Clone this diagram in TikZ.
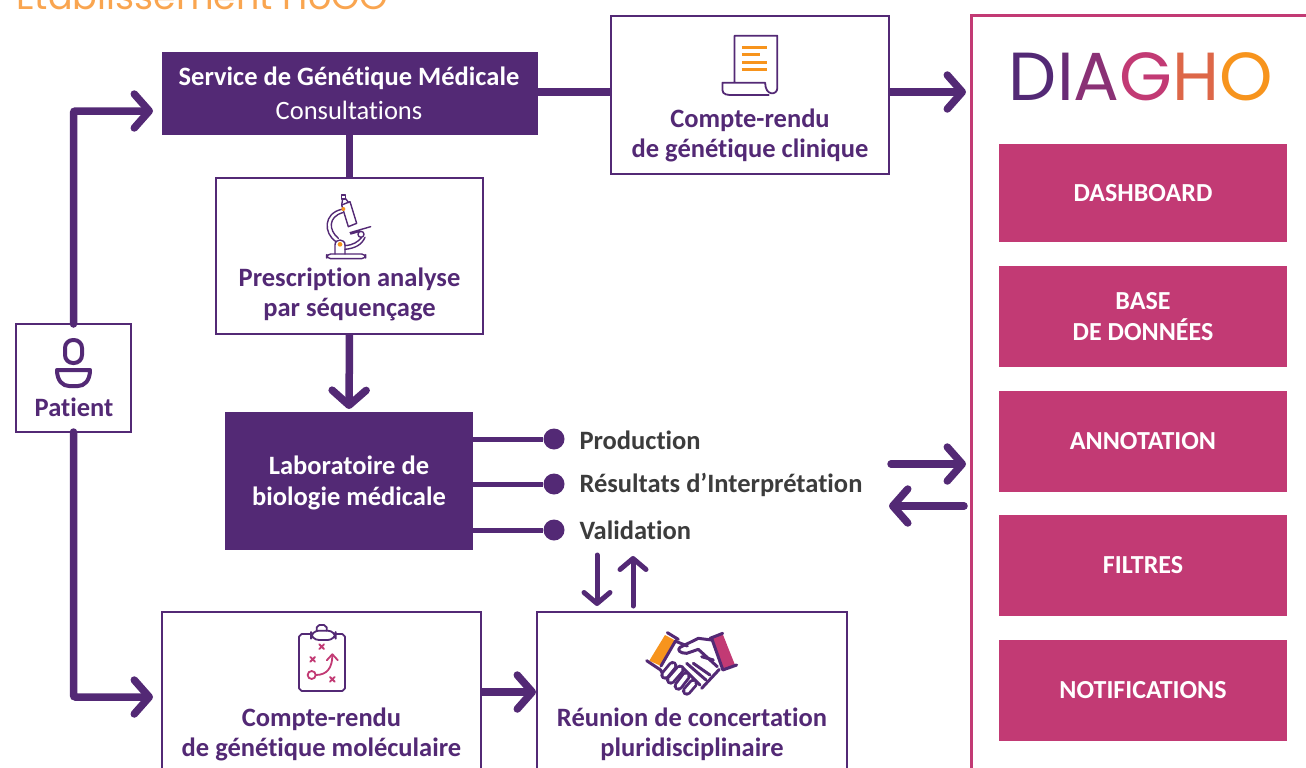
\documentclass[tikz,border=0pt]{standalone}
\usepackage{fontspec}
\setmainfont{Carlito}[Ligatures=NoCommon]
\newfontfamily\logofont{Poppins}
\usetikzlibrary{arrows.meta}
\definecolor{violet}{HTML}{532975}
\definecolor{framboise}{HTML}{C23A74}
\definecolor{orangeicon}{HTML}{F7941D}
\definecolor{orangetitle}{HTML}{F9A550}
\definecolor{grisfonce}{HTML}{3C3C3C}
\begin{document}
\begin{tikzpicture}[x=1pt, y=-1pt,
      >={Straight Barb[length=15pt,width=34pt,round]},
      flow/.style={
        ->,
        violet,
        line width=7.5pt
      },
      thinflow/.style={
        -{Straight Barb[length=11pt,width=26pt,round]},
        violet,
        line width=5pt,
        line cap=round
      },
      link/.style={
        violet,
        line width=7.5pt
      },
      darkbox/.style={
        fill=violet,
        inner sep=0pt,
        outer sep=0pt
      },
      whitebox/.style={
        draw=violet,
        fill=white,
        line width=2.8pt,
        inner sep=0pt,
        outer sep=0pt
      },
      pinkbox/.style={
        fill=framboise,
        text=white,
        font=\fontsize{26}{31}\selectfont\bfseries,
        align=center,
        minimum width=288pt,
        inner sep=0pt
      },
      boxtext/.style={
        text=violet,
        font=\fontsize{26.5}{30}\selectfont\bfseries,
        align=center
      },
      listtext/.style={
        text=grisfonce,
        font=\fontsize{26.5}{30}\selectfont\bfseries,
        anchor=west
      },
      bullet/.style={
        fill=violet,
        circle,
        minimum size=21pt,
        inner sep=0pt
      },
      icon/.style={
        violet,
        line width=1.8pt,
        line join=round,
        line cap=round
      },
      cross/.style={
        framboise,
        line width=1.8pt,
        line cap=round
      },
    ]
    \path[use as bounding box, clip] (0,0) rectangle (1306,768);

    \node[anchor=base west, inner sep=0pt, text=orangetitle,
          font=\logofont\fontsize{36.5}{40}\selectfont] (title) at (16,10) {Etablissement HoGO};

    % colonne de gauche
    \node[whitebox, minimum width=115pt, minimum height=108pt] (patient) at (73.5,378) {};
    \node[boxtext] (patientlabel) at (74,407) {Patient};
    \draw[violet, line width=4pt, rounded corners=8pt] (65,340) rectangle (82,363);
    \draw[violet, line width=4pt, line join=round] (57,370) -- (90,370)
          .. controls (90,381) and (84,386) .. (78,386) -- (69,386)
          .. controls (63,386) and (57,381) .. (57,370) -- cycle;

    % service et compte-rendu clinique
    \node[darkbox, minimum width=376pt, minimum height=83pt] (service) at (350,93.5) {};
    \node[text=white, font=\fontsize{26.5}{30}\selectfont\bfseries] (servicelabel) at (349,78) {Service de Génétique Médicale};
    \node[text=white, font=\fontsize{26.5}{30}\selectfont] (consult) at (349,110) {Consultations};

    \node[whitebox, minimum width=278pt, minimum height=158pt] (clinique) at (750,95) {};
    \node[boxtext] (cliniquelabel) at (750,135) {Compte-rendu\\de génétique clinique};
    \begin{scope}[shift={(600,0)},xscale=0.45,yscale=1/3]
      \draw[icon] (299,248) -- (299,107) -- (394,107) -- (394,265) .. controls (394,285) and (367,290) .. (367,248) -- (272,248) -- (272,270)
            .. controls (272,285) and (285,285) .. (295,285) -- (375,285);
      \foreach \ly/\lx in {142/370, 164/355, 187/370, 209/370}
        \draw[orangeicon, line width=3pt] (315,\ly) -- (\lx,\ly);
    \end{scope}

    % prescription
    \node[whitebox, minimum width=267pt, minimum height=156pt] (prescription) at (349.5,256) {};
    \node[boxtext] (prescriptionlabel) at (349.5,294) {Prescription analyse\\par séquençage};
    \begin{scope}[shift={(300,180)},scale=1/3,icon/.append style={line width=1.4pt}]
      \draw[icon, rounded corners=4pt] (80,222) rectangle (197,236);
      \draw[icon] (105,222) -- (105,195) .. controls (105,175) and (135,175) .. (135,195) -- (135,222);
      \fill[orangeicon] (120,193) circle [radius=7];
      \draw[icon] (108,185) .. controls (70,160) and (70,100) .. (125,88);
      \draw[icon] (115,175) .. controls (85,150) and (85,110) .. (128,98);
      \draw[icon] (135,197) .. controls (160,195) and (175,185) .. (185,172);
      \draw[icon] (135,208) .. controls (165,205) and (185,195) .. (195,172);
      \draw[icon] (125,75) -- (150,65) -- (170,130) -- (145,140) -- cycle;
      \draw[icon] (124,45) rectangle (136,57);
      \draw[icon] (128,57) -- (125,75) (136,55) -- (146,68);
      \fill[orangeicon] (130,87) circle [radius=6];
      \draw[icon] (150,158) -- (212,140) (152,162) -- (180,154);
      \draw[icon] (183,163) circle [radius=9];
    \end{scope}

    % laboratoire
    \node[darkbox, minimum width=248pt, minimum height=138pt] (labo) at (349,481) {};
    \node[text=white, align=center, font=\fontsize{26.5}{31}\selectfont\bfseries] (labolabel) at (349,483) {Laboratoire de\\biologie médicale};

    \node[bullet] (prod) at (554,439) {};
    \node[bullet] (resu) at (554,484) {};
    \node[bullet] (vali) at (554,530) {};
    \node[listtext] (prodlabel) at (576,440) {Production};
    \node[listtext] (resulabel) at (576,485) {Résultats d’Interprétation};
    \node[listtext] (valilabel) at (576,530) {Validation};
    \draw[violet, line width=5pt] (labo.east |- prod) -- (prod);
    \draw[violet, line width=5pt] (labo.east |- resu) -- (resu);
    \draw[violet, line width=5pt] (labo.east |- vali) -- (vali);

    % bas de page
    \node[whitebox, minimum width=319pt, minimum height=190pt] (moleculaire) at (321.5,707) {};
    \node[boxtext] (moleculairelabel) at (321.5,734) {Compte-rendu\\de génétique moléculaire};
    \begin{scope}[shift={(285,620)},scale=1/3]
      \draw[icon] (78,42) -- (50,42) -- (42,50) -- (42,205) -- (50,213) -- (172,213) -- (180,205) -- (180,50) -- (172,42) -- (152,42);
      \draw[icon, rounded corners=8pt, fill=white] (78,32) rectangle (152,60);
      \draw[icon] (95,32) -- (95,22) -- (103,15) -- (117,15) -- (125,22) -- (125,32);
      \foreach \cx/\cy in {110/80, 83/118, 142/178}
        \draw[cross] (\cx-7,\cy-7) -- (\cx+7,\cy+7) (\cx-7,\cy+7) -- (\cx+7,\cy-7);
      \draw[cross] (80,165) circle [radius=12];
      \draw[cross, -{Straight Barb[length=6pt,width=11pt,round]}] (92,165) .. controls (125,165) and (142,145) .. (142,100);
    \end{scope}

    \node[whitebox, minimum width=310pt, minimum height=190pt] (rcp) at (692,707) {};
    \node[boxtext] (rcplabel) at (692,734) {Réunion de concertation\\pluridisciplinaire};
    \begin{scope}[shift={(630,620)},scale=1/3]
      \fill[orangeicon] (105,45) -- (137,62) -- (93,138) -- (58,122) -- cycle;
      \fill[framboise] (245,55) -- (278,42) -- (315,135) -- (278,148) -- cycle;
      \draw[icon, line width=3pt] (112,38) -- (145,58) (50,122) -- (92,150) (240,55) -- (278,40) (278,150) -- (320,135)
            (137,62) -- (93,138) (245,55) -- (278,148);
      \draw[icon, line width=3pt] (140,65) -- (172,78);
      \draw[icon, line width=3pt] (245,60) -- (205,55) -- (150,82) .. controls (140,90) and (150,100) .. (170,100) -- (205,88) -- (262,140);
      \draw[icon, line width=3pt] (268,148) -- (215,205) (92,150) -- (100,165);
      \draw[icon, line width=3pt] (215,110) -- (250,120);
      \draw[icon, line width=3pt] (170,130) -- (228,180) (190,130) -- (240,165) (155,140) -- (210,195);
      \foreach \fa/\fb/\fc/\fd in {105/165/128/137, 122/180/150/148, 145/198/168/168, 170/213/190/190}{
        \draw[violet, line width=9.5pt, line cap=round] (\fa,\fb) -- (\fc,\fd);
        \draw[white, line width=3.8pt, line cap=round] (\fa,\fb) -- (\fc,\fd);
      }
    \end{scope}

    % DIAGHO
    \node[draw=framboise, line width=3pt, fill=white, inner sep=0pt, outer sep=0pt, anchor=north west,
          minimum width=360pt, minimum height=790pt] (diagho) at (971,16) {};
    \node[inner sep=0pt, font=\logofont\fontsize{68}{68}\selectfont] (logo) at (1141,77)
      {\textcolor{violet}{D}\textcolor{violet!80!framboise}{I}\textcolor{violet!50!framboise}{A}\textcolor{framboise}{G}\textcolor{framboise!50!orangeicon}{H}\textcolor{orangeicon}{O}};
    \node[pinkbox, minimum height=98pt] (dashboard) at (1143,193) {DASHBOARD};
    \node[pinkbox, minimum height=101pt] (base) at (1143,316.5) {BASE\\DE DONNÉES};
    \node[pinkbox, minimum height=101pt] (annotation) at (1143,441.5) {ANNOTATION};
    \node[pinkbox, minimum height=101pt] (filtres) at (1143,565.5) {FILTRES};
    \node[pinkbox, minimum height=101pt] (notifications) at (1143,690.5) {NOTIFICATIONS};

    % liaisons
    \coordinate (entreeservice) at (153,111);
    \coordinate (entreemol) at (153,697);
    \coordinate (entreediagho) at (966,92);
    \coordinate (allerdiagho) at (966,464);
    \coordinate (departlabo) at (891,464);
    \coordinate (departdiagho) at (964,506);
    \coordinate (retourlabo) at (889,506);
    \coordinate (departrcp) at (633,606);
    \coordinate (arriveevali) at (633,556);
    \coordinate (departvali) at (597,555);
    \coordinate (arriveercp) at (597,606);

    \draw[flow, line cap=round, rounded corners=2pt] (patient.north) |- (entreeservice);
    \draw[flow, line cap=round, rounded corners=2pt] (patient.south) |- (entreemol);
    \draw[link] (service.south -| prescription.north) -- (prescription.north);
    \draw[flow, shorten >=3pt] (prescription.south) -- (labo.north);
    \draw[link] (service.east |- entreediagho) -- (clinique.west |- entreediagho);
    \draw[flow] (clinique.east |- entreediagho) -- (entreediagho);
    \draw[flow, shorten >=1pt] (moleculaire.east |- 0,692) -- (rcp.west |- 0,692);
    \draw[flow, line cap=round] (departlabo) -- (allerdiagho);
    \draw[flow, line cap=round] (departdiagho) -- (retourlabo);
    \draw[thinflow] (departvali) -- (arriveercp);
    \draw[thinflow] (departrcp) -- (arriveevali);
\end{tikzpicture}
\end{document}
